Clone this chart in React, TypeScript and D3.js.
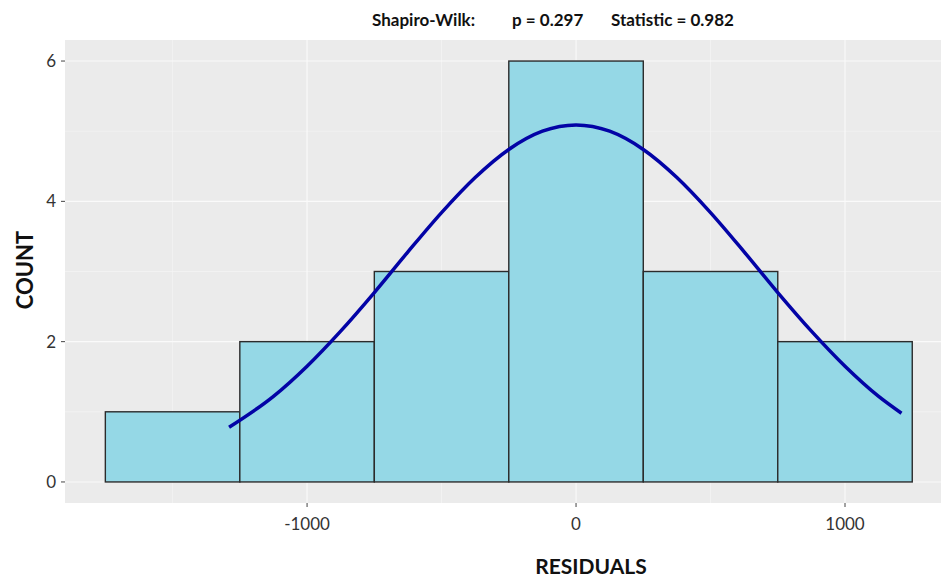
import React from 'react';
import * as d3 from 'd3';

// histogram bins (residuals), width 500
const binStarts = [-1750, -1250, -750, -250, 250, 750];
const binWidth = 500;
const counts = [1, 2, 3, 6, 3, 2];

// fitted normal curve
const curveX = [-1290, -1125, -1000, -875, -750, -625, -500, -375, -250, -125, 0, 125, 250, 375, 500, 625, 750, 875, 1000, 1125, 1210];
const curveY = [0.78, 1.22, 1.65, 2.15, 2.7, 3.28, 3.84, 4.34, 4.74, 5.0, 5.09, 5.0, 4.74, 4.34, 3.84, 3.28, 2.7, 2.15, 1.65, 1.22, 0.98];

const xTicks = [-1000, 0, 1000];
const xMinor = [-1500, -500, 500, 1500];
const yTicks = [0, 2, 4, 6];
const yMinor = [1, 3, 5];

const W = 941;
const H = 578;

const App = () => {
  const panel = { left: 65, top: 40, bottom: 503, right: 941 };

  const x = d3.scaleLinear().domain([-1900, 1400]).range([65, 952.6]);
  const y = d3.scaleLinear().domain([-0.3, 6.3]).range([panel.bottom, panel.top]);

  const line = d3
    .line<number>()
    .x((d, i) => x(curveX[i]))
    .y((d) => y(d))
    .curve(d3.curveMonotoneX);

  const font = 'Lato, "Open Sans", sans-serif';

  return (
    <svg width={W} height={H} style={{ position: 'absolute', left: 0, top: 0, background: '#fff' }}>
      <rect x={panel.left} y={panel.top} width={panel.right - panel.left} height={panel.bottom - panel.top} fill="#EBEBEB" />
      {yMinor.map((t) => (
        <line key={'ym' + t} x1={panel.left} x2={panel.right} y1={y(t)} y2={y(t)} stroke="#f6f6f6" strokeWidth={0.6} />
      ))}
      {xMinor.map((t) => (
        <line key={'xm' + t} x1={x(t)} x2={x(t)} y1={panel.top} y2={panel.bottom} stroke="#f6f6f6" strokeWidth={0.6} />
      ))}
      {yTicks.map((t) => (
        <line key={'yM' + t} x1={panel.left} x2={panel.right} y1={y(t)} y2={y(t)} stroke="#fafafa" strokeWidth={1.1} />
      ))}
      {xTicks.map((t) => (
        <line key={'xM' + t} x1={x(t)} x2={x(t)} y1={panel.top} y2={panel.bottom} stroke="#fafafa" strokeWidth={1.1} />
      ))}

      {counts.map((c, i) => (
        <rect
          key={'b' + i}
          x={x(binStarts[i])}
          y={y(c)}
          width={x(binStarts[i] + binWidth) - x(binStarts[i])}
          height={y(0) - y(c)}
          fill="#95D8E6"
          stroke="#2b2b2b"
          strokeWidth={1.4}
        />
      ))}

      <path d={line(curveY) || ''} fill="none" stroke="#0303A6" strokeWidth={3.5} strokeLinecap="butt" />

      {/* y axis */}
      {yTicks.map((t) => (
        <g key={'yt' + t}>
          <line x1={panel.left - 4} x2={panel.left} y1={y(t)} y2={y(t)} stroke="#444" strokeWidth={1} />
          <text x={panel.left - 9} y={y(t)} dy="0.35em" textAnchor="end" fontFamily={font} fontSize={17} fill="#333">
            {t}
          </text>
        </g>
      ))}
      {/* x axis */}
      {xTicks.map((t) => (
        <g key={'xt' + t}>
          <line x1={x(t)} x2={x(t)} y1={panel.bottom} y2={panel.bottom + 4} stroke="#444" strokeWidth={1} />
          <text x={x(t)} y={530} textAnchor="middle" fontFamily={font} fontSize={17} fill="#333">
            {t}
          </text>
        </g>
      ))}

      <text x={591} y={574} textAnchor="middle" fontFamily={font} fontWeight="bold" fontSize={21} fill="#111">
        RESIDUALS
      </text>
      <text
        transform={`translate(33,270) rotate(-90)`}
        textAnchor="middle"
        fontFamily={font}
        fontWeight="bold"
        fontSize={22}
        fill="#111"
      >
        COUNT
      </text>

      <g fontFamily={font} fontWeight="bold" fontSize={17} fill="#111">
        <text x={372} y={26}>Shapiro-Wilk:</text>
        <text x={512} y={26}>p = 0.297</text>
        <text x={611} y={26}>Statistic = 0.982</text>
      </g>
    </svg>
  );
};

export default App;
